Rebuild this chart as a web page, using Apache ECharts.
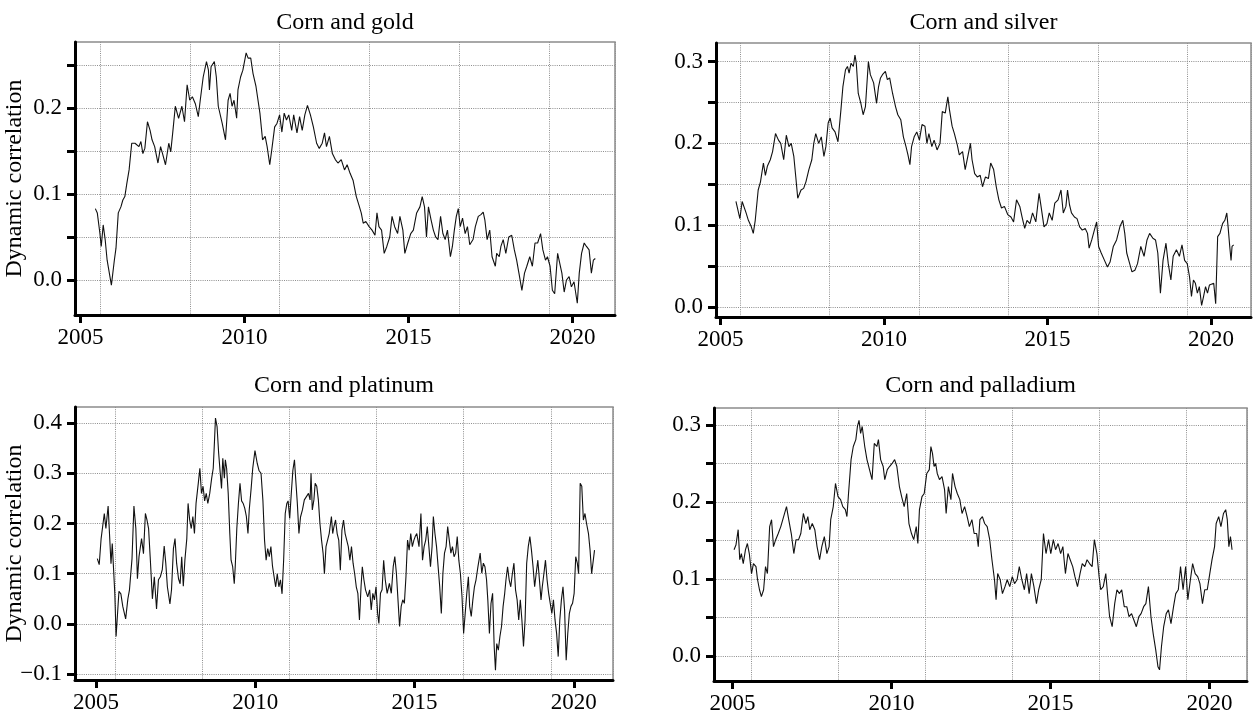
<!DOCTYPE html>
<html>
<head>
<meta charset="utf-8">
<script src="https://cdn.jsdelivr.net/npm/echarts@6/dist/echarts.min.js"></script>
<style>
html, body { margin: 0; padding: 0; background: #fff; }
#main { width: 1253px; height: 715px; }
</style>
</head>
<body>
<div id="main"></div>
<script>
// dynamic correlation, [year, value]
var gold = [[2005.45,0.083],[2005.51,0.078],[2005.59,0.054],[2005.63,0.039],[2005.69,0.064],[2005.75,0.047],[2005.81,0.023],[2005.94,-0.006],[2006.03,0.023],[2006.08,0.037],[2006.12,0.037],[2006.15,0.078],[2006.23,0.085],[2006.29,0.093],[2006.35,0.097],[2006.41,0.112],[2006.48,0.128],[2006.56,0.159],[2006.66,0.159],[2006.78,0.155],[2006.84,0.161],[2006.90,0.147],[2006.96,0.153],[2007.04,0.184],[2007.12,0.174],[2007.18,0.163],[2007.26,0.155],[2007.36,0.136],[2007.44,0.155],[2007.50,0.147],[2007.59,0.134],[2007.69,0.159],[2007.75,0.149],[2007.81,0.171],[2007.89,0.202],[2007.99,0.188],[2008.09,0.202],[2008.17,0.184],[2008.25,0.227],[2008.33,0.209],[2008.41,0.213],[2008.50,0.205],[2008.59,0.190],[2008.65,0.209],[2008.74,0.236],[2008.84,0.254],[2008.90,0.244],[2008.93,0.221],[2008.98,0.248],[2009.08,0.254],[2009.14,0.236],[2009.20,0.202],[2009.32,0.182],[2009.42,0.163],[2009.50,0.209],[2009.56,0.217],[2009.62,0.202],[2009.68,0.209],[2009.76,0.188],[2009.80,0.221],[2009.88,0.236],[2009.95,0.244],[2010.05,0.264],[2010.11,0.258],[2010.19,0.258],[2010.26,0.240],[2010.35,0.225],[2010.47,0.194],[2010.55,0.163],[2010.63,0.167],[2010.69,0.155],[2010.77,0.134],[2010.83,0.151],[2010.92,0.178],[2010.99,0.182],[2011.07,0.192],[2011.14,0.172],[2011.21,0.194],[2011.28,0.186],[2011.35,0.192],[2011.44,0.174],[2011.50,0.192],[2011.60,0.171],[2011.68,0.190],[2011.76,0.174],[2011.84,0.192],[2011.92,0.203],[2012.01,0.192],[2012.10,0.178],[2012.20,0.159],[2012.28,0.153],[2012.37,0.159],[2012.44,0.171],[2012.50,0.155],[2012.59,0.167],[2012.68,0.147],[2012.77,0.140],[2012.85,0.136],[2012.95,0.140],[2013.05,0.128],[2013.13,0.134],[2013.22,0.124],[2013.31,0.116],[2013.41,0.097],[2013.49,0.087],[2013.56,0.078],[2013.62,0.066],[2013.70,0.068],[2013.80,0.062],[2013.89,0.058],[2013.98,0.052],[2014.04,0.078],[2014.10,0.062],[2014.18,0.058],[2014.26,0.031],[2014.34,0.039],[2014.43,0.050],[2014.50,0.074],[2014.58,0.062],[2014.67,0.054],[2014.74,0.074],[2014.83,0.058],[2014.89,0.031],[2014.98,0.043],[2015.07,0.054],[2015.15,0.058],[2015.25,0.078],[2015.35,0.085],[2015.42,0.097],[2015.49,0.085],[2015.55,0.050],[2015.61,0.085],[2015.69,0.070],[2015.76,0.058],[2015.83,0.050],[2015.90,0.047],[2015.98,0.074],[2016.05,0.054],[2016.12,0.047],[2016.19,0.058],[2016.28,0.027],[2016.34,0.039],[2016.40,0.058],[2016.46,0.074],[2016.52,0.083],[2016.58,0.062],[2016.65,0.072],[2016.73,0.054],[2016.80,0.062],[2016.87,0.041],[2016.97,0.047],[2017.04,0.062],[2017.13,0.074],[2017.21,0.076],[2017.28,0.079],[2017.33,0.070],[2017.40,0.047],[2017.48,0.058],[2017.55,0.027],[2017.65,0.016],[2017.69,0.031],[2017.77,0.027],[2017.82,0.039],[2017.89,0.047],[2017.97,0.031],[2018.06,0.050],[2018.15,0.052],[2018.23,0.035],[2018.30,0.023],[2018.37,0.008],[2018.46,-0.012],[2018.54,0.008],[2018.61,0.016],[2018.70,0.027],[2018.78,0.016],[2018.86,0.043],[2018.94,0.043],[2019.03,0.054],[2019.10,0.035],[2019.18,0.023],[2019.24,0.027],[2019.32,0.016],[2019.39,-0.012],[2019.46,-0.016],[2019.55,0.031],[2019.61,0.033],[2019.68,0.008],[2019.75,-0.014],[2019.82,0.000],[2019.90,0.004],[2019.97,-0.008],[2020.05,-0.002],[2020.15,-0.027],[2020.21,0.008],[2020.28,0.031],[2020.36,0.043],[2020.43,0.039],[2020.51,0.035],[2020.58,0.008],[2020.64,0.023],[2020.70,0.025]];

var silver = [[2005.47,0.129],[2005.53,0.127],[2005.59,0.108],[2005.66,0.129],[2005.72,0.131],[2005.78,0.115],[2005.85,0.106],[2005.94,0.098],[2006.00,0.090],[2006.06,0.106],[2006.15,0.143],[2006.22,0.153],[2006.31,0.176],[2006.37,0.161],[2006.43,0.172],[2006.52,0.180],[2006.59,0.190],[2006.68,0.212],[2006.77,0.204],[2006.84,0.200],[2006.93,0.180],[2007.01,0.210],[2007.09,0.196],[2007.16,0.200],[2007.24,0.184],[2007.30,0.159],[2007.36,0.133],[2007.46,0.143],[2007.54,0.145],[2007.61,0.153],[2007.70,0.168],[2007.79,0.180],[2007.85,0.200],[2007.91,0.212],[2008.00,0.200],[2008.08,0.208],[2008.16,0.184],[2008.22,0.196],[2008.29,0.225],[2008.35,0.231],[2008.41,0.219],[2008.50,0.214],[2008.59,0.202],[2008.68,0.241],[2008.74,0.269],[2008.82,0.290],[2008.88,0.294],[2008.93,0.286],[2008.99,0.298],[2009.06,0.294],[2009.11,0.308],[2009.15,0.298],[2009.21,0.261],[2009.29,0.249],[2009.36,0.235],[2009.43,0.245],[2009.52,0.300],[2009.58,0.284],[2009.68,0.274],[2009.77,0.249],[2009.83,0.269],[2009.89,0.280],[2009.95,0.284],[2010.04,0.288],[2010.10,0.278],[2010.17,0.280],[2010.26,0.261],[2010.35,0.245],[2010.42,0.235],[2010.51,0.229],[2010.59,0.208],[2010.67,0.196],[2010.73,0.186],[2010.79,0.174],[2010.84,0.196],[2010.92,0.208],[2011.00,0.214],[2011.08,0.204],[2011.16,0.223],[2011.25,0.221],[2011.31,0.200],[2011.37,0.212],[2011.46,0.196],[2011.53,0.204],[2011.62,0.192],[2011.71,0.200],[2011.78,0.239],[2011.87,0.237],[2011.95,0.257],[2012.00,0.241],[2012.08,0.221],[2012.15,0.212],[2012.24,0.198],[2012.30,0.186],[2012.40,0.190],[2012.48,0.168],[2012.57,0.186],[2012.64,0.200],[2012.69,0.180],[2012.77,0.163],[2012.85,0.159],[2012.94,0.161],[2013.01,0.147],[2013.10,0.159],[2013.19,0.157],[2013.26,0.176],[2013.35,0.168],[2013.43,0.147],[2013.51,0.131],[2013.59,0.121],[2013.68,0.123],[2013.78,0.113],[2013.88,0.110],[2013.96,0.104],[2014.05,0.131],[2014.15,0.123],[2014.22,0.110],[2014.30,0.096],[2014.37,0.106],[2014.46,0.102],[2014.54,0.115],[2014.64,0.104],[2014.74,0.139],[2014.80,0.123],[2014.89,0.098],[2014.98,0.102],[2015.05,0.115],[2015.14,0.106],[2015.22,0.127],[2015.32,0.131],[2015.41,0.143],[2015.48,0.115],[2015.56,0.123],[2015.61,0.143],[2015.67,0.125],[2015.73,0.115],[2015.82,0.110],[2015.90,0.108],[2015.98,0.098],[2016.06,0.094],[2016.15,0.096],[2016.22,0.090],[2016.27,0.072],[2016.35,0.082],[2016.43,0.094],[2016.50,0.104],[2016.56,0.074],[2016.64,0.066],[2016.74,0.057],[2016.83,0.049],[2016.91,0.055],[2017.01,0.074],[2017.11,0.082],[2017.21,0.098],[2017.30,0.106],[2017.36,0.090],[2017.42,0.066],[2017.51,0.053],[2017.58,0.043],[2017.67,0.045],[2017.75,0.053],[2017.85,0.074],[2017.95,0.062],[2018.04,0.082],[2018.12,0.090],[2018.22,0.084],[2018.30,0.082],[2018.37,0.066],[2018.45,0.017],[2018.53,0.057],[2018.62,0.078],[2018.69,0.053],[2018.77,0.033],[2018.84,0.062],[2018.94,0.070],[2019.03,0.062],[2019.11,0.076],[2019.19,0.057],[2019.27,0.053],[2019.34,0.037],[2019.40,0.013],[2019.46,0.033],[2019.52,0.029],[2019.58,0.017],[2019.64,0.025],[2019.71,0.002],[2019.77,0.013],[2019.83,0.025],[2019.89,0.017],[2019.95,0.027],[2020.01,0.025],[2020.08,0.029],[2020.14,0.004],[2020.20,0.086],[2020.27,0.090],[2020.35,0.102],[2020.42,0.106],[2020.48,0.115],[2020.52,0.098],[2020.57,0.074],[2020.61,0.057],[2020.64,0.074],[2020.69,0.076]];

var platinum = [[2005.04,0.130],[2005.10,0.118],[2005.16,0.170],[2005.26,0.220],[2005.31,0.190],[2005.38,0.235],[2005.47,0.120],[2005.51,0.160],[2005.59,0.060],[2005.63,-0.025],[2005.72,0.065],[2005.78,0.060],[2005.84,0.035],[2005.93,0.010],[2006.00,0.050],[2006.05,0.068],[2006.13,0.130],[2006.19,0.235],[2006.25,0.190],[2006.30,0.090],[2006.35,0.134],[2006.43,0.170],[2006.49,0.140],[2006.55,0.220],[2006.60,0.207],[2006.65,0.190],[2006.70,0.134],[2006.77,0.050],[2006.83,0.094],[2006.90,0.030],[2006.96,0.088],[2007.02,0.094],[2007.08,0.108],[2007.14,0.155],[2007.19,0.121],[2007.24,0.074],[2007.32,0.040],[2007.37,0.068],[2007.43,0.150],[2007.48,0.170],[2007.53,0.121],[2007.59,0.090],[2007.64,0.080],[2007.69,0.134],[2007.74,0.075],[2007.79,0.127],[2007.85,0.170],[2007.89,0.240],[2007.94,0.207],[2007.99,0.190],[2008.04,0.214],[2008.09,0.180],[2008.14,0.240],[2008.21,0.280],[2008.26,0.310],[2008.31,0.260],[2008.36,0.274],[2008.41,0.245],[2008.46,0.260],[2008.51,0.240],[2008.57,0.260],[2008.63,0.290],[2008.68,0.310],[2008.72,0.365],[2008.75,0.410],[2008.80,0.393],[2008.85,0.340],[2008.90,0.300],[2008.94,0.270],[2008.98,0.330],[2009.03,0.290],[2009.06,0.327],[2009.10,0.310],[2009.15,0.260],[2009.20,0.180],[2009.24,0.127],[2009.29,0.114],[2009.34,0.080],[2009.37,0.114],[2009.42,0.190],[2009.47,0.240],[2009.52,0.280],[2009.57,0.245],[2009.62,0.240],[2009.67,0.230],[2009.72,0.214],[2009.77,0.180],[2009.81,0.227],[2009.87,0.270],[2009.92,0.310],[2009.99,0.345],[2010.06,0.320],[2010.12,0.305],[2010.18,0.300],[2010.24,0.245],[2010.29,0.167],[2010.34,0.127],[2010.39,0.150],[2010.44,0.134],[2010.49,0.154],[2010.54,0.115],[2010.59,0.094],[2010.64,0.074],[2010.69,0.100],[2010.74,0.074],[2010.79,0.088],[2010.84,0.060],[2010.89,0.127],[2010.94,0.220],[2010.99,0.240],[2011.03,0.245],[2011.08,0.210],[2011.13,0.260],[2011.18,0.306],[2011.23,0.327],[2011.27,0.287],[2011.32,0.240],[2011.37,0.180],[2011.42,0.213],[2011.48,0.227],[2011.54,0.247],[2011.60,0.247],[2011.67,0.260],[2011.72,0.247],[2011.75,0.300],[2011.79,0.227],[2011.84,0.247],[2011.88,0.280],[2011.93,0.274],[2011.98,0.247],[2012.03,0.200],[2012.08,0.167],[2012.13,0.140],[2012.17,0.100],[2012.22,0.154],[2012.27,0.167],[2012.32,0.180],[2012.39,0.214],[2012.43,0.180],[2012.47,0.194],[2012.52,0.207],[2012.57,0.180],[2012.62,0.167],[2012.67,0.107],[2012.72,0.187],[2012.77,0.207],[2012.82,0.180],[2012.87,0.167],[2012.92,0.154],[2012.97,0.127],[2013.02,0.154],[2013.07,0.121],[2013.12,0.100],[2013.17,0.074],[2013.22,0.061],[2013.27,0.008],[2013.32,0.074],[2013.36,0.114],[2013.41,0.088],[2013.46,0.068],[2013.53,0.054],[2013.59,0.068],[2013.64,0.028],[2013.69,0.061],[2013.74,0.048],[2013.79,0.074],[2013.84,0.021],[2013.88,0.001],[2013.93,0.061],[2013.98,0.068],[2014.03,0.127],[2014.08,0.088],[2014.14,0.061],[2014.21,0.081],[2014.27,0.061],[2014.33,0.114],[2014.38,0.134],[2014.43,0.101],[2014.48,0.048],[2014.53,-0.005],[2014.58,0.035],[2014.63,0.048],[2014.68,0.041],[2014.73,0.094],[2014.78,0.167],[2014.83,0.147],[2014.88,0.180],[2014.93,0.154],[2014.98,0.167],[2015.02,0.174],[2015.07,0.180],[2015.14,0.154],[2015.20,0.220],[2015.25,0.127],[2015.30,0.154],[2015.35,0.167],[2015.40,0.194],[2015.45,0.154],[2015.50,0.114],[2015.55,0.154],[2015.59,0.214],[2015.64,0.180],[2015.69,0.154],[2015.74,0.114],[2015.79,0.074],[2015.84,0.021],[2015.89,0.101],[2015.94,0.141],[2015.99,0.154],[2016.04,0.194],[2016.09,0.167],[2016.14,0.141],[2016.19,0.154],[2016.24,0.134],[2016.29,0.141],[2016.34,0.174],[2016.39,0.127],[2016.44,0.100],[2016.49,0.054],[2016.54,-0.019],[2016.59,0.021],[2016.64,0.061],[2016.69,0.094],[2016.73,0.035],[2016.78,0.015],[2016.83,0.048],[2016.88,0.074],[2016.93,0.088],[2016.99,0.114],[2017.06,0.141],[2017.11,0.101],[2017.16,0.121],[2017.21,0.114],[2017.26,0.088],[2017.30,0.048],[2017.35,-0.019],[2017.40,0.041],[2017.45,0.061],[2017.50,-0.045],[2017.54,-0.092],[2017.58,-0.039],[2017.63,-0.052],[2017.68,-0.025],[2017.73,-0.005],[2017.78,0.035],[2017.83,0.061],[2017.87,0.088],[2017.92,0.114],[2017.97,0.088],[2018.02,0.074],[2018.07,0.100],[2018.12,0.121],[2018.17,0.068],[2018.22,0.048],[2018.27,0.008],[2018.32,0.048],[2018.37,0.008],[2018.42,-0.045],[2018.47,0.008],[2018.52,0.121],[2018.57,0.154],[2018.62,0.174],[2018.67,0.147],[2018.72,0.114],[2018.77,0.074],[2018.82,0.101],[2018.87,0.127],[2018.92,0.088],[2018.97,0.048],[2019.01,0.074],[2019.06,0.100],[2019.11,0.127],[2019.16,0.088],[2019.21,0.061],[2019.26,0.041],[2019.31,0.021],[2019.36,0.048],[2019.41,0.008],[2019.46,-0.019],[2019.51,-0.065],[2019.56,0.008],[2019.61,0.048],[2019.66,0.074],[2019.71,0.028],[2019.76,-0.072],[2019.81,-0.019],[2019.86,0.021],[2019.91,0.035],[2019.96,0.041],[2020.01,0.061],[2020.06,0.134],[2020.11,0.121],[2020.15,0.100],[2020.20,0.280],[2020.25,0.274],[2020.30,0.207],[2020.35,0.220],[2020.40,0.200],[2020.46,0.180],[2020.51,0.147],[2020.56,0.100],[2020.61,0.100],[2020.65,0.147]];

var palladium = [[2005.05,0.138],[2005.11,0.144],[2005.18,0.164],[2005.23,0.125],[2005.28,0.133],[2005.34,0.120],[2005.41,0.138],[2005.47,0.146],[2005.53,0.133],[2005.60,0.107],[2005.66,0.120],[2005.74,0.116],[2005.79,0.099],[2005.85,0.086],[2005.91,0.077],[2005.98,0.086],[2006.04,0.116],[2006.10,0.107],[2006.17,0.168],[2006.23,0.177],[2006.29,0.142],[2006.36,0.151],[2006.44,0.159],[2006.52,0.168],[2006.61,0.181],[2006.70,0.194],[2006.77,0.177],[2006.85,0.159],[2006.93,0.133],[2007.00,0.151],[2007.08,0.151],[2007.15,0.159],[2007.23,0.185],[2007.31,0.172],[2007.37,0.181],[2007.43,0.164],[2007.51,0.172],[2007.59,0.164],[2007.66,0.142],[2007.74,0.125],[2007.81,0.142],[2007.89,0.155],[2007.97,0.133],[2008.04,0.142],[2008.09,0.177],[2008.17,0.194],[2008.24,0.224],[2008.32,0.207],[2008.40,0.203],[2008.47,0.194],[2008.55,0.190],[2008.60,0.181],[2008.65,0.211],[2008.73,0.255],[2008.80,0.272],[2008.88,0.281],[2008.93,0.298],[2008.98,0.306],[2009.03,0.289],[2009.08,0.298],[2009.16,0.272],[2009.23,0.255],[2009.31,0.242],[2009.39,0.229],[2009.46,0.276],[2009.54,0.272],[2009.59,0.281],[2009.66,0.255],[2009.74,0.246],[2009.79,0.229],[2009.87,0.242],[2009.94,0.246],[2010.02,0.250],[2010.10,0.255],[2010.17,0.246],[2010.25,0.220],[2010.32,0.207],[2010.40,0.194],[2010.48,0.211],[2010.55,0.172],[2010.63,0.159],[2010.70,0.151],[2010.78,0.168],[2010.83,0.146],[2010.88,0.190],[2010.96,0.207],[2011.03,0.211],[2011.11,0.237],[2011.19,0.242],[2011.24,0.272],[2011.29,0.263],[2011.34,0.246],[2011.39,0.250],[2011.44,0.237],[2011.51,0.229],[2011.59,0.233],[2011.67,0.216],[2011.72,0.185],[2011.79,0.220],[2011.87,0.203],[2011.92,0.237],[2012.00,0.220],[2012.07,0.211],[2012.15,0.203],[2012.22,0.185],[2012.30,0.194],[2012.38,0.181],[2012.45,0.168],[2012.53,0.177],[2012.60,0.159],[2012.68,0.159],[2012.73,0.142],[2012.78,0.177],[2012.86,0.181],[2012.93,0.172],[2013.01,0.168],[2013.09,0.151],[2013.16,0.125],[2013.24,0.099],[2013.29,0.073],[2013.34,0.107],[2013.42,0.099],[2013.49,0.081],[2013.57,0.090],[2013.64,0.099],[2013.72,0.090],[2013.80,0.103],[2013.87,0.094],[2013.95,0.099],[2014.02,0.116],[2014.10,0.099],[2014.18,0.086],[2014.25,0.107],[2014.33,0.081],[2014.40,0.107],[2014.48,0.090],[2014.56,0.068],[2014.63,0.086],[2014.71,0.099],[2014.78,0.159],[2014.86,0.133],[2014.94,0.151],[2015.01,0.133],[2015.09,0.151],[2015.16,0.138],[2015.24,0.146],[2015.32,0.133],[2015.39,0.142],[2015.47,0.107],[2015.55,0.133],[2015.62,0.125],[2015.70,0.116],[2015.77,0.103],[2015.85,0.090],[2015.93,0.107],[2016.00,0.120],[2016.08,0.116],[2016.15,0.125],[2016.23,0.120],[2016.31,0.116],[2016.38,0.151],[2016.46,0.133],[2016.53,0.103],[2016.58,0.086],[2016.66,0.090],[2016.74,0.107],[2016.81,0.073],[2016.86,0.051],[2016.94,0.038],[2017.02,0.068],[2017.09,0.086],[2017.17,0.081],[2017.24,0.086],[2017.32,0.064],[2017.40,0.064],[2017.47,0.051],[2017.55,0.055],[2017.62,0.047],[2017.70,0.038],[2017.78,0.051],[2017.85,0.055],[2017.93,0.064],[2018.00,0.068],[2018.08,0.090],[2018.16,0.051],[2018.23,0.029],[2018.31,0.008],[2018.38,-0.014],[2018.43,-0.018],[2018.49,0.012],[2018.56,0.038],[2018.64,0.055],[2018.71,0.060],[2018.79,0.042],[2018.87,0.064],[2018.94,0.081],[2019.02,0.086],[2019.09,0.116],[2019.17,0.086],[2019.25,0.116],[2019.32,0.073],[2019.40,0.099],[2019.47,0.120],[2019.55,0.107],[2019.63,0.103],[2019.70,0.094],[2019.78,0.068],[2019.85,0.086],[2019.93,0.086],[2020.01,0.107],[2020.08,0.125],[2020.16,0.142],[2020.21,0.172],[2020.29,0.181],[2020.36,0.168],[2020.44,0.185],[2020.51,0.190],[2020.56,0.177],[2020.61,0.142],[2020.66,0.155],[2020.71,0.138]];

var yearTicks = [2005, 2010, 2015, 2020];
var goldTicks = [0, 0.05, 0.1, 0.15, 0.2, 0.25];
var goldLabels = [0, 0.1, 0.2];
var silverTicks = [0, 0.05, 0.1, 0.15, 0.2, 0.25, 0.3];
var silverLabels = [0, 0.1, 0.2, 0.3];
var platinumTicks = [-0.1, 0, 0.1, 0.2, 0.3, 0.4];
var platinumLabels = [-0.1, 0, 0.1, 0.2, 0.3, 0.4];
var palladiumTicks = [0, 0.05, 0.1, 0.15, 0.2, 0.25, 0.3];
var palladiumLabels = [0, 0.1, 0.2, 0.3];

var FONT = '"Liberation Serif", "DejaVu Serif", serif';

// panel layout in pixels: left, top, width, height
var panels = [
    {title: 'Corn and gold', data: gold, rect: [75, 42, 540, 273], xr: [2004.83, 2021.30], yr: [-0.0407, 0.2767], step: 0.05, ticks: goldTicks, labels: goldLabels, yName: true, titleY: 23},
    {title: 'Corn and silver', data: silver, rect: [716, 43, 535, 274], xr: [2004.86, 2021.22], yr: [-0.0122, 0.3227], step: 0.05, ticks: silverTicks, labels: silverLabels, yName: false, titleY: 23},
    {title: 'Corn and platinum', data: platinum, rect: [75, 407, 538, 273], xr: [2004.34, 2021.23], yr: [-0.1116, 0.432], step: 0.1, ticks: platinumTicks, labels: platinumLabels, yName: true, titleY: 386},
    {title: 'Corn and palladium', data: palladium, rect: [714, 408, 533, 273], xr: [2004.42, 2021.18], yr: [-0.0325, 0.322], step: 0.05, ticks: palladiumTicks, labels: palladiumLabels, yName: false, titleY: 386}
];

function toDays(y) {
    return (y - 1970) * 365.25;
}

var gridLine = {color: '#8e8e8e', width: 1, type: [1, 1.2]};

var grids = [], xAxes = [], yAxes = [], series = [], texts = [];
panels.forEach(function(p, i) {
    grids.push({
        left: p.rect[0], top: p.rect[1], width: p.rect[2], height: p.rect[3],
        outerBoundsMode: 'none', containLabel: false,
        show: true, borderColor: '#8c8c8c', borderWidth: 1.5, backgroundColor: '#fff'
    });
    // year axis
    xAxes.push({
        type: 'value', gridIndex: i, min: p.xr[0], max: p.xr[1],
        minInterval: 5, maxInterval: 5,
        axisLine: {show: true, onZero: false, lineStyle: {color: '#000', width: 3}},
        axisTick: {show: true, length: 8, customValues: yearTicks, lineStyle: {color: '#000', width: 3}},
        axisLabel: {
            customValues: yearTicks, margin: 11, color: '#000', fontFamily: FONT, fontSize: 23,
            formatter: function(v) { return String(Math.round(v)); }
        },
        splitLine: {show: false}
    });
    // day axis, only for the vertical grid (every 1000 days)
    xAxes.push({
        type: 'value', gridIndex: i, position: 'bottom',
        min: toDays(p.xr[0]), max: toDays(p.xr[1]),
        minInterval: 1000, maxInterval: 1000,
        axisLine: {show: false}, axisTick: {show: false}, axisLabel: {show: false},
        splitLine: {show: true, lineStyle: gridLine}
    });
    yAxes.push({
        type: 'value', gridIndex: i, min: p.yr[0], max: p.yr[1],
        minInterval: p.step, maxInterval: p.step,
        name: p.yName ? 'Dynamic correlation' : '',
        nameLocation: 'middle', nameGap: 48, nameMoveOverlap: false,
        nameTextStyle: {color: '#000', fontFamily: FONT, fontSize: 24},
        axisLine: {show: true, onZero: false, lineStyle: {color: '#000', width: 3}},
        axisTick: {show: true, length: 8, customValues: p.ticks, lineStyle: {color: '#000', width: 3}},
        axisLabel: {
            customValues: p.labels, margin: 13, color: '#000', fontFamily: FONT, fontSize: 23,
            formatter: function(v) { return (v < -1e-9 ? '\u2212' : '') + Math.abs(v).toFixed(1); }
        },
        splitLine: {show: true, lineStyle: gridLine}
    });
    series.push({
        type: 'line', xAxisIndex: 2 * i, yAxisIndex: i,
        data: p.data, showSymbol: false, symbol: 'none',
        lineStyle: {color: '#111', width: 1.1},
        silent: true, z: 3
    });
    texts.push({
        type: 'text', x: p.rect[0] + p.rect[2] / 2, y: p.titleY,
        style: {text: p.title, align: 'center', verticalAlign: 'middle', font: '24px ' + FONT, fill: '#000'}
    });
});

var chart = echarts.init(document.getElementById('main'));
chart.setOption({
    animation: false,
    backgroundColor: '#fff',
    grid: grids,
    xAxis: xAxes,
    yAxis: yAxes,
    series: series,
    graphic: {elements: texts}
});
</script>
</body>
</html>
